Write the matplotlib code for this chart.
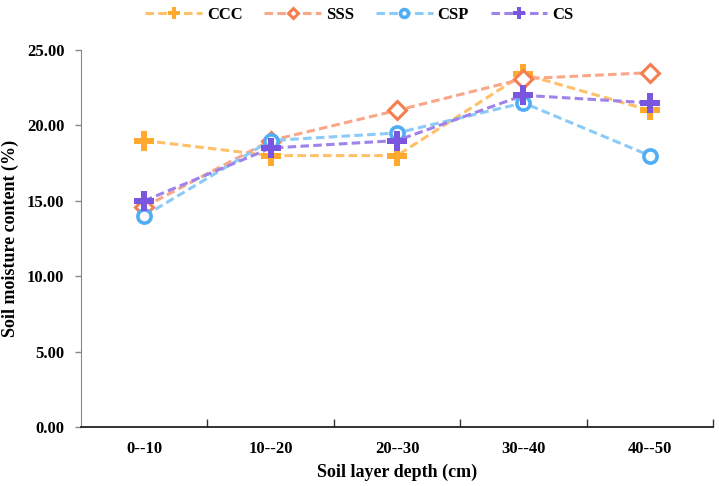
import matplotlib.pyplot as plt
from matplotlib.ticker import FormatStrFormatter

plt.rcParams['font.family'] = ['Liberation Serif', 'DejaVu Serif']
plt.rcParams['font.weight'] = 'bold'

depths = ['0--10', '10--20', '20--30', '30--40', '40--50']
ccc = [19.0, 18.0, 18.0, 23.4, 21.0]
sss = [14.6, 19.0, 21.0, 23.1, 23.5]
csp = [14.0, 19.0, 19.5, 21.5, 18.0]
cs = [15.0, 18.5, 19.0, 22.0, 21.5]

# (name, values, line colour, marker colour, marker, face, size, edge width)
series = [
    ('CCC', ccc, '#FFC06A', '#FFAA2E', 'P', None, 14, 0),
    ('SSS', sss, '#F9A689', '#F57E4F', 'D', 'white', 9, 2.2),
    ('CSP', csp, '#8CCBF8', '#4FAEF5', 'o', 'white', 9.5, 2.6),
    ('CS', cs, '#9E84EA', '#7A55E0', 'P', None, 14, 0),
]

fig = plt.figure(figsize=(7.19, 4.86), dpi=100)
ax = fig.add_axes([0.1127, 0.1214, 0.8790, 0.7756])

x = list(range(len(depths)))
for name, vals, lc, mc, mk, face, ms, mew in series:
    ax.plot(x, vals, linestyle='--', color=lc, lw=2.2, dashes=(2.8, 1.4),
            marker=mk, markersize=ms, markerfacecolor=face if face else mc,
            markeredgecolor=mc, markeredgewidth=mew, label=name)

ax.set_xlim(-0.5, len(depths) - 0.5)
ax.set_ylim(0, 25)
ax.set_yticks([0, 5, 10, 15, 20, 25])
ax.yaxis.set_major_formatter(FormatStrFormatter('%.2f'))
ax.set_xticks(x)
ax.set_xticklabels(depths)
ax.set_xticks([i + 0.5 for i in x], minor=True)
ax.tick_params(axis='x', which='major', length=0, pad=10, labelsize=12)
ax.tick_params(axis='x', which='minor', direction='in', length=6, width=1, color='#333333')
ax.tick_params(axis='y', direction='out', length=4, width=1, color='#888888',
               labelsize=12, pad=8)

for side in ['top', 'right']:
    ax.spines[side].set_visible(False)
ax.spines['left'].set_color('#888888')
ax.spines['bottom'].set_color('#222222')
ax.spines['bottom'].set_linewidth(1.3)

ax.set_xlabel('Soil layer depth (cm)', fontsize=13, fontweight='bold', labelpad=5)
ax.set_ylabel('Soil moisture content (%)', fontsize=13, fontweight='bold', labelpad=6)

fig.legend(loc='center', bbox_to_anchor=(0.5, 1 - 15 / 486), ncol=4, frameon=False,
           fontsize=12, handlelength=3.4, columnspacing=1.3, handletextpad=0.3,
           markerscale=0.6)

fig.savefig('out.png', dpi=100)
